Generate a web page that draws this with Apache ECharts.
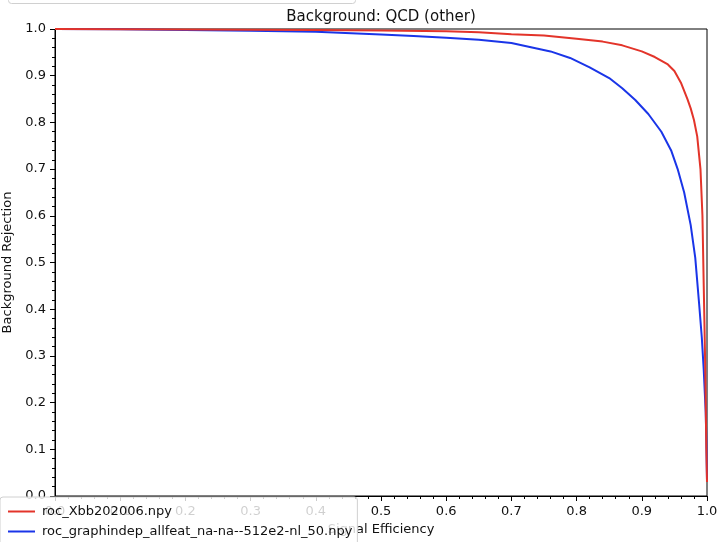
<!DOCTYPE html>
<html>
<head>
<meta charset="utf-8">
<script src="https://cdn.jsdelivr.net/npm/echarts@6/dist/echarts.min.js"></script>
<style>html,body{margin:0;padding:0;background:#fff;}#c{width:721px;height:542px;}</style>
</head>
<body>
<div id="c"></div>
<script>
var titleText = 'Background: QCD (other)';
var xName = 'Signal Efficiency';
var yName = 'Background Rejection';
var seriesNames = ['roc_Xbb202006.npy', 'roc_graphindep_allfeat_na-na--512e2-nl_50.npy'];

var redX = [0, 0.1, 0.2, 0.3, 0.4, 0.5, 0.6, 0.65, 0.7, 0.75, 0.8, 0.84, 0.87, 0.9, 0.92, 0.94, 0.95, 0.96, 0.97, 0.975, 0.98, 0.985, 0.99, 0.993, 0.995, 0.997, 0.998, 0.999, 1.0];
var redY = [1.0, 0.9995, 0.999, 0.9985, 0.998, 0.997, 0.995, 0.993, 0.989, 0.986, 0.979, 0.973, 0.965, 0.952, 0.94, 0.924, 0.91, 0.885, 0.85, 0.83, 0.805, 0.77, 0.70, 0.60, 0.45, 0.30, 0.20, 0.10, 0.03];

var blueX = [0, 0.1, 0.2, 0.3, 0.4, 0.5, 0.55, 0.6, 0.65, 0.7, 0.73, 0.76, 0.79, 0.82, 0.85, 0.87, 0.89, 0.91, 0.93, 0.945, 0.955, 0.965, 0.975, 0.982, 0.988, 0.992, 0.995, 0.998, 0.999, 1.0];
var blueY = [1.0, 0.9995, 0.998, 0.9965, 0.994, 0.988, 0.985, 0.981, 0.977, 0.97, 0.961, 0.952, 0.938, 0.918, 0.895, 0.873, 0.848, 0.818, 0.78, 0.74, 0.70, 0.65, 0.58, 0.51, 0.41, 0.34, 0.27, 0.18, 0.12, 0.035];

function zip(a, b) { return a.map(function (v, i) { return [v, b[i]]; }); }

var font = 'DejaVu Sans';
var chart = echarts.init(document.getElementById('c'), null, {renderer: 'canvas'});
var axisCommon = {
  type: 'value', min: 0, max: 1, interval: 0.1,
  axisLine: {show: true, lineStyle: {color: '#000', width: 1}},
  axisTick: {show: true, inside: false, length: 5, lineStyle: {color: '#000'}},
  minorTick: {show: true, splitNumber: 5, length: 3, lineStyle: {color: '#000'}},
  splitLine: {show: false},
  axisLabel: {color: '#111', fontSize: 13, fontFamily: font, formatter: function (v) { return v.toFixed(1); }},
  nameTextStyle: {color: '#111', fontSize: 13, fontFamily: font},
  nameLocation: 'middle'
};
chart.setOption({
  animation: false,
  backgroundColor: '#fff',
  title: {text: titleText, left: 376, top: 5, textAlign: 'center',
    textStyle: {fontSize: 15, fontWeight: 'normal', color: '#111', fontFamily: font}},
  grid: {left: 55, right: 14, top: 29, bottom: 46, containLabel: false, outerBoundsMode: 'none',
    show: true, borderColor: '#000', borderWidth: 1, backgroundColor: 'transparent'},
  xAxis: Object.assign({}, axisCommon, {name: xName, nameGap: 26,
    axisLabel: Object.assign({}, axisCommon.axisLabel, {margin: 9})}),
  yAxis: Object.assign({}, axisCommon, {name: yName, nameGap: 40, nameRotate: 90,
    axisLabel: Object.assign({}, axisCommon.axisLabel, {margin: 9})}),
  legend: {
    orient: 'vertical', left: 0, top: 497, height: 80, z: 10,
    data: seriesNames,
    icon: 'rect', itemWidth: 27, itemHeight: 2, itemGap: 7,
    padding: [8, 5, 20, 8],
    backgroundColor: 'rgba(255,255,255,0.8)', borderColor: '#d0d0d0', borderWidth: 1, borderRadius: 3,
    textStyle: {fontSize: 13, fontFamily: font, color: '#111', padding: [0, 0, 0, 2]}
  },
  graphic: [{
    type: 'rect', left: 8, top: -30, z: 10,
    shape: {width: 347, height: 33, r: 3},
    style: {fill: 'rgba(255,255,255,0.8)', stroke: '#d0d0d0', lineWidth: 1}
  }],
  series: [
    {name: seriesNames[0], type: 'line', data: zip(redX, redY), showSymbol: false, symbol: 'none',
      lineStyle: {color: '#e3342a', width: 2}, itemStyle: {color: '#e3342a'}, z: 3},
    {name: seriesNames[1], type: 'line', data: zip(blueX, blueY), showSymbol: false, symbol: 'none',
      lineStyle: {color: '#1a35e8', width: 2}, itemStyle: {color: '#1a35e8'}, z: 2}
  ]
});
</script>
</body>
</html>
